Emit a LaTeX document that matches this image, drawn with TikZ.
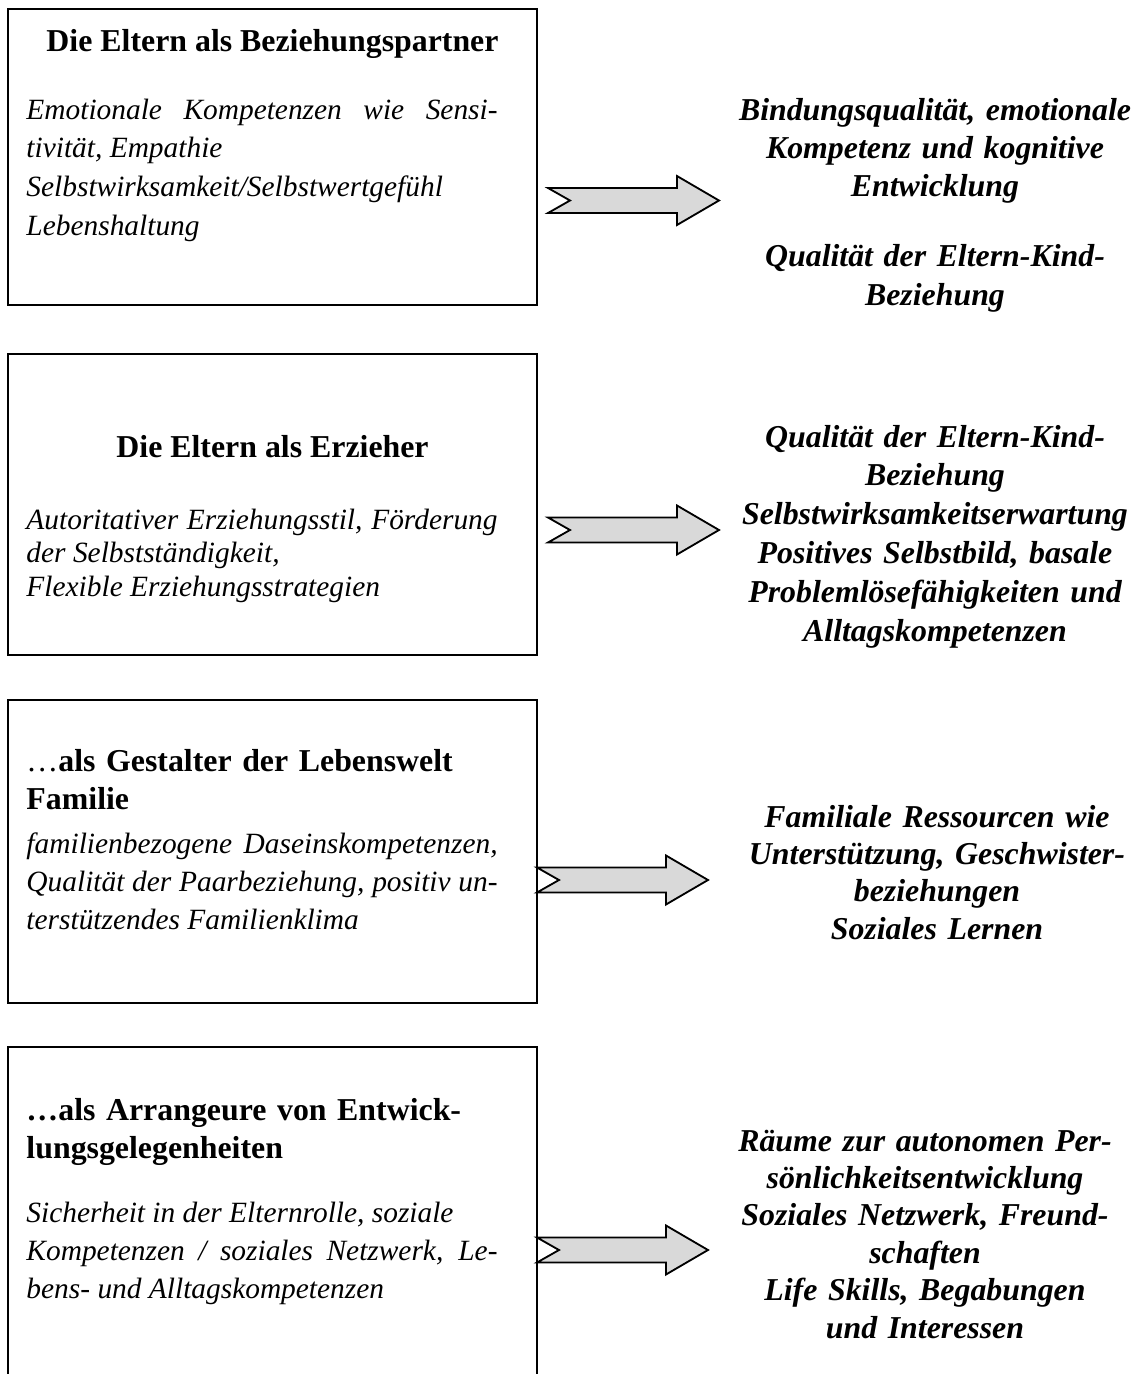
\documentclass[tikz,border=0pt]{standalone}
\usepackage{fontspec}
\setmainfont{Liberation Serif}
\begin{document}
\begin{tikzpicture}[x=0.4082pt, y=-0.4082pt,
  frame/.style={line width=0.82pt, line join=miter},
  headline/.style={inner sep=0pt, font=\fontsize{13}{15.8}\selectfont\bfseries},
  detail/.style={anchor=base west, inner sep=0pt, text width=192.3pt, align=justify,
    font=\fontsize{12}{15.8}\selectfont\itshape},
  outcome/.style={anchor=base, inner sep=0pt, text width=190pt, align=center,
    font=\fontsize{13}{15.6}\selectfont\bfseries\itshape},
  notcharrow/.pic={
    \draw[line width=0.75pt, line join=miter, fill=gray!30]
      (0,-12.5) -- (129,-12.5) -- (129,-24.5) -- (171,0) -- (129,24.5)
      -- (129,12.5) -- (0,12.5) -- (22,0) -- cycle;
  }]
\useasboundingbox (0,0) rectangle (1139,1374);

% --- boxes ---------------------------------------------------------------
\draw[frame] (8,9) rectangle (537,305);
\draw[frame] (8,354) rectangle (537,655);
\draw[frame] (8,700) rectangle (537,1003);
\draw[frame] (8,1374) -- (8,1047) -- (537,1047) -- (537,1374);

% --- box 1 ---------------------------------------------------------------
\node[headline, anchor=base] (t1) at (272.5,51) {Die Eltern als Beziehungspartner};
\node[detail] (d1) at (26,119) {Emotionale Kompetenzen wie Sensi-\linebreak
  tivität, Empathie\\
  Selbstwirksamkeit/Selbstwertgefühl\\
  Lebenshaltung};

% --- box 2 ---------------------------------------------------------------
\node[headline, anchor=base] (t2) at (272.5,457) {Die Eltern als Erzieher};
\node[detail, font=\fontsize{12}{13.7}\selectfont\itshape] (d2) at (26,529)
  {Autoritativer Erziehungsstil, Förderung\linebreak
  der Selbstständigkeit,\\
  Flexible Erziehungsstrategien};

% --- box 3 ---------------------------------------------------------------
\node[headline, anchor=base west, text width=200pt, align=left] (t3) at (26,771)
  {\mdseries…\bfseries als Gestalter der Lebenswelt\\ Familie};
\node[detail, font=\fontsize{12}{15.6}\selectfont\itshape] (d3) at (26,853)
  {familienbezogene Daseinskompetenzen,\linebreak
  Qualität der Paarbeziehung, positiv un-\linebreak
  terstützendes Familienklima};

% --- box 4 ---------------------------------------------------------------
\node[headline, anchor=base west, text width=200pt, align=left] (t4) at (26,1120)
  {…als Arrangeure von Entwick-\\ lungsgelegenheiten};
\node[detail, font=\fontsize{12}{15.7}\selectfont\itshape] (d4) at (26,1222)
  {Sicherheit in der Elternrolle, soziale\\
  Kompetenzen / soziales Netzwerk, Le-\linebreak
  bens- und Alltagskompetenzen};

% --- outcomes ------------------------------------------------------------
\node[outcome] (o1) at (935,120) {Bindungsqualität, emotionale\\
  Kompetenz und kognitive\\ Entwicklung\\[13.2pt]
  Qualität der Eltern-Kind-\\ Beziehung};
\node[outcome, font=\fontsize{13}{15.9}\selectfont\bfseries\itshape] (o2) at (935,447)
  {Qualität der Eltern-Kind-\\ Beziehung\\ Selbstwirksamkeitserwartung\\
  Positives Selbstbild, basale\\ Problemlösefähigkeiten und\\ Alltagskompetenzen};
\node[outcome, font=\fontsize{13}{15.3}\selectfont\bfseries\itshape] (o3) at (937,827)
  {Familiale Ressourcen wie\\ Unterstützung, Geschwister-\\ beziehungen\\ Soziales Lernen};
\node[outcome, font=\fontsize{13}{15.3}\selectfont\bfseries\itshape] (o4) at (925,1151)
  {Räume zur autonomen Per-\\ sönlichkeitsentwicklung\\ Soziales Netzwerk, Freund-\\
  schaften\\ Life Skills, Begabungen\\ und Interessen};

% --- arrows --------------------------------------------------------------
\pic at (548,200.5) {notcharrow};
\pic at (548,530) {notcharrow};
\pic at (537,880) {notcharrow};
\pic at (537,1250) {notcharrow};
\end{tikzpicture}
\end{document}
